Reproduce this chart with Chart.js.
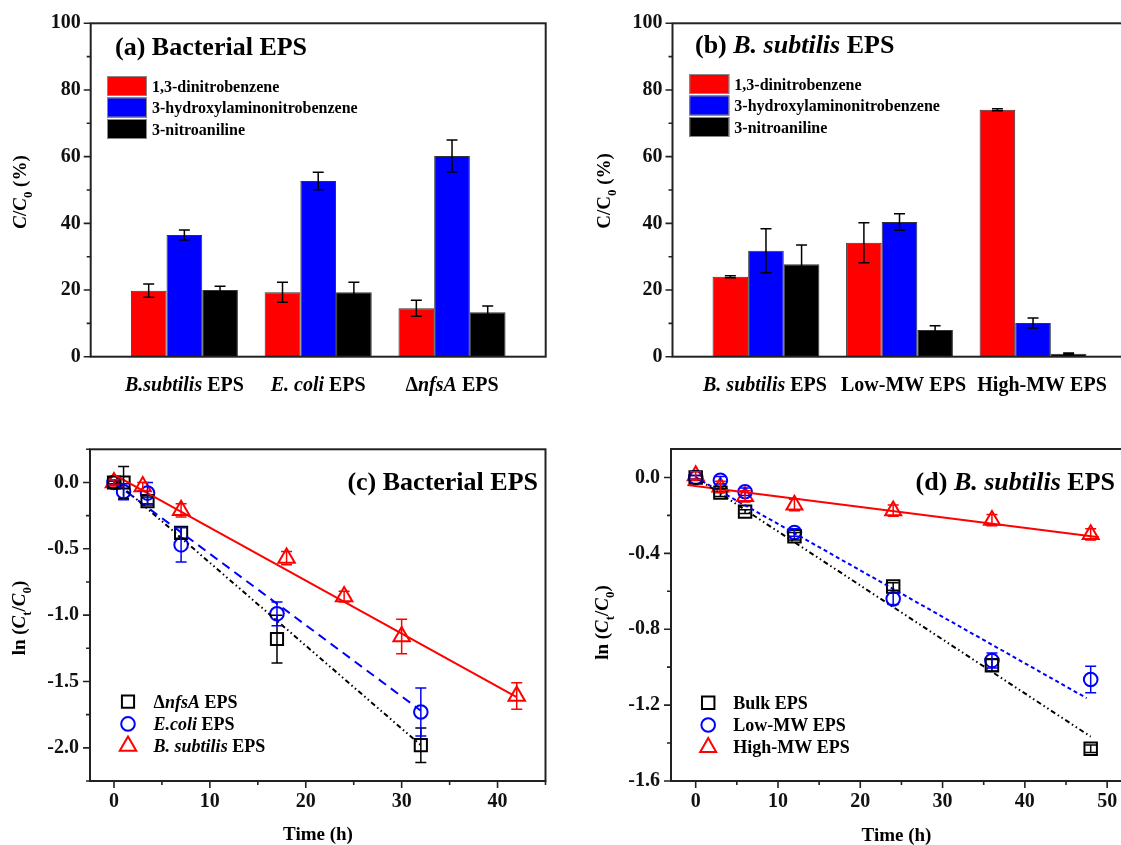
<!DOCTYPE html>
<html><head><meta charset="utf-8">
<script src="https://cdn.jsdelivr.net/npm/chart.js@4.4.0/dist/chart.umd.min.js"></script>
<style>
html,body{margin:0;padding:0;background:#fff;overflow:hidden;width:1121px;height:845px;position:relative;}
canvas{position:absolute;}
</style></head><body>
<canvas id="ca" width="560" height="420" style="left:0;top:0;width:560px;height:420px"></canvas>
<canvas id="cb" width="600" height="420" style="left:560px;top:0;width:600px;height:420px"></canvas>
<canvas id="cc" width="560" height="425" style="left:0;top:420px;width:560px;height:425px"></canvas>
<canvas id="cd" width="600" height="425" style="left:560px;top:420px;width:600px;height:425px"></canvas>
<script>
// ---------- DATA ----------
const barSeriesNames = ['1,3-dinitrobenzene', '3-hydroxylaminonitrobenzene', '3-nitroaniline'];
const barColors = ['#ff0000', '#0000ff', '#000000'];

// panel (a)
const catA = ['*B.subtilis* EPS', '*E. coli* EPS', 'Δ*nfsA* EPS'];
const aDNB = [19.8, 19.3, 14.5];   const aDNBerr = [2.0, 3.0, 2.4];
const aHANB = [36.5, 52.7, 60.2];  const aHANBerr = [1.5, 2.6, 4.8];
const aNA = [20.0, 19.3, 13.3];    const aNAerr = [1.1, 3.0, 1.9];

// panel (b)
const catB = ['*B. subtilis* EPS', 'Low-MW EPS', 'High-MW EPS'];
const bDNB = [24.0, 34.2, 74.1];   const bDNBerr = [0.3, 6.0, 0.3];
const bHANB = [31.8, 40.4, 10.1];  const bHANBerr = [6.6, 2.5, 1.5];
const bNA = [27.7, 8.0, 0.9];      const bNAerr = [5.8, 1.3, 0.2];

const barYMajor = [0, 20, 40, 60, 80, 100];
const barYMinor = [10, 30, 50, 70, 90];

// panel (c)
const cNames = ['Δ*nfsA* EPS', '*E.coli* EPS', '*B. subtilis* EPS'];
const cTimeNfsA = [0, 1, 3.5, 7, 17, 32];
const cNfsA = [0, 0, -0.14, -0.38, -1.18, -1.98];
const cNfsAerr = [0.02, 0.12, 0.03, 0.04, 0.18, 0.13];
const cTimeEcoli = [0, 1, 3.5, 7, 17, 32];
const cEcoli = [0, -0.07, -0.08, -0.47, -0.99, -1.73];
const cEcoliErr = [0.01, 0.06, 0.08, 0.13, 0.09, 0.18];
const cTimeBsub = [0, 3, 7, 18, 24, 30, 42];
const cBsub = [0, -0.03, -0.21, -0.57, -0.86, -1.16, -1.61];
const cBsubErr = [0.02, 0.03, 0.05, 0.05, 0.04, 0.13, 0.10];
const cFitNfsAX = [0, 32];  const cFitNfsAY = [0.02, -1.98];
const cFitEcoliX = [0, 32]; const cFitEcoliY = [0.0, -1.72];
const cFitBsubX = [0, 42];  const cFitBsubY = [0.06, -1.617];
const cXMajor = [0, 10, 20, 30, 40];
const cXMinor = [5, 15, 25, 35, 45];
const cYMajor = [0, -0.5, -1.0, -1.5, -2.0];
const cYMinor = [0.25, -0.25, -0.75, -1.25, -1.75, -2.25];

// panel (d)
const dNames = ['Bulk EPS', 'Low-MW EPS', 'High-MW EPS'];
const dTime = [0, 3, 6, 12, 24, 36, 48];
const dBulk = [0, -0.08, -0.18, -0.31, -0.575, -0.99, -1.43];
const dBulkErr = [0.01, 0.02, 0.01, 0.02, 0.02, 0.03, 0.02];
const dLow = [0, -0.015, -0.075, -0.29, -0.64, -0.965, -1.065];
const dLowErr = [0.01, 0.02, 0.02, 0.02, 0.03, 0.04, 0.07];
const dHigh = [0.01, -0.05, -0.10, -0.145, -0.175, -0.225, -0.30];
const dHighErr = [0.02, 0.03, 0.03, 0.03, 0.03, 0.03, 0.03];
const dFitBulkX = [0, 48];  const dFitBulkY = [0, -1.366];
const dFitLowX = [0, 47.5]; const dFitLowY = [0, -1.163];
const dFitHighX = [-1, 49]; const dFitHighY = [-0.04, -0.315];
const dXMajor = [0, 10, 20, 30, 40, 50];
const dXMinor = [5, 15, 25, 35, 45, 55];
const dYMajor = [0, -0.4, -0.8, -1.2, -1.6];
const dYMinor = [-0.2, -0.6, -1.0, -1.4];

// ---------- HELPERS ----------
const FAM = "'Liberation Serif', 'Times New Roman', serif";
function parseRich(s) {
  const segs = []; let it = false, sub = false, buf = '';
  for (const ch of s) {
    if (ch === '*' || ch === '~') {
      if (buf) segs.push({ t: buf, it, sub }); buf = '';
      if (ch === '*') it = !it; else sub = !sub;
    } else buf += ch;
  }
  if (buf) segs.push({ t: buf, it, sub });
  return segs;
}
function fontFor(g, size) {
  const sz = g.sub ? size * 0.68 : size;
  return (g.it ? 'italic ' : '') + 'bold ' + sz.toFixed(1) + 'px ' + FAM;
}
function drawRich(ctx, s, x, y, size, align, color) {
  const segs = parseRich(s); let w = 0;
  for (const g of segs) { ctx.font = fontFor(g, size); g.w = ctx.measureText(g.t).width; w += g.w; }
  let cx = align === 'center' ? x - w / 2 : align === 'right' ? x - w : x;
  ctx.fillStyle = color || '#000'; ctx.textBaseline = 'alphabetic'; ctx.textAlign = 'left';
  for (const g of segs) { ctx.font = fontFor(g, size); ctx.fillText(g.t, cx, y + (g.sub ? size * 0.28 : 0)); cx += g.w; }
}
function drawVert(ctx, s, cx, cy, size) {
  ctx.save(); ctx.translate(cx, cy); ctx.rotate(-Math.PI / 2);
  drawRich(ctx, s, 0, size * 0.33, size, 'center'); ctx.restore();
}
function marker(ctx, style, x, y, r, color) {
  ctx.save(); ctx.strokeStyle = color; ctx.lineWidth = 2; ctx.beginPath();
  if (style === 'rect') { const h = r * Math.SQRT1_2; ctx.rect(x - h, y - h, 2 * h, 2 * h); }
  else if (style === 'circle') { ctx.arc(x, y, r, 0, Math.PI * 2); }
  else { ctx.moveTo(x, y - r); ctx.lineTo(x + 0.866 * r, y + 0.5 * r); ctx.lineTo(x - 0.866 * r, y + 0.5 * r); ctx.closePath(); }
  ctx.stroke(); ctx.restore();
}
const tickFont = { family: FAM, size: 20, weight: 'bold' };

function framePlugin(yMaj, yMin, xMaj, xMin) {
  return {
    id: 'frame',
    afterDraw(chart) {
      const { ctx, chartArea: ca, scales } = chart;
      ctx.save(); ctx.strokeStyle = '#222'; ctx.lineWidth = 2;
      ctx.strokeRect(ca.left, ca.top, ca.right - ca.left, ca.bottom - ca.top);
      ctx.lineWidth = 1.6; ctx.beginPath();
      yMaj.forEach(v => { const p = scales.y.getPixelForValue(v); ctx.moveTo(ca.left, p); ctx.lineTo(ca.left - 7, p); });
      yMin.forEach(v => { const p = scales.y.getPixelForValue(v); ctx.moveTo(ca.left, p); ctx.lineTo(ca.left - 4, p); });
      xMaj.forEach(v => { const p = scales.x.getPixelForValue(v); ctx.moveTo(p, ca.bottom); ctx.lineTo(p, ca.bottom + 7); });
      xMin.forEach(v => { const p = scales.x.getPixelForValue(v); ctx.moveTo(p, ca.bottom); ctx.lineTo(p, ca.bottom + 4); });
      ctx.stroke(); ctx.restore();
    }
  };
}
const errPlugin = {
  id: 'errbars',
  afterDatasetsDraw(chart) {
    const { ctx, scales } = chart;
    chart.data.datasets.forEach((ds, i) => {
      if (!ds.errors) return;
      const meta = chart.getDatasetMeta(i);
      ctx.save(); ctx.strokeStyle = ds.errColor || ds.borderColor; ctx.lineWidth = 1.5; ctx.beginPath();
      meta.data.forEach((el, j) => {
        const v = ds.data[j].y, e = ds.errors[j];
        const y1 = scales.y.getPixelForValue(v + e), y2 = scales.y.getPixelForValue(v - e);
        const x = el.x, hw = 5.5;
        ctx.moveTo(x, y1); ctx.lineTo(x, y2);
        ctx.moveTo(x - hw, y1); ctx.lineTo(x + hw, y1);
        ctx.moveTo(x - hw, y2); ctx.lineTo(x + hw, y2);
      });
      ctx.stroke(); ctx.restore();
    });
  }
};

function barChart(id, W, H, area, cats, labelShift, vals, errs, deco) {
  const datasets = vals.map((arr, k) => ({
    label: barSeriesNames[k],
    data: arr.map((v, i) => ({ x: i, y: v })),
    errors: errs[k], errColor: '#000',
    backgroundColor: barColors[k], borderColor: '#333', borderWidth: 1,
    categoryPercentage: 0.8, barPercentage: 1.0
  }));
  return new Chart(document.getElementById(id), {
    type: 'bar',
    data: { datasets },
    options: {
      responsive: false, animation: false, devicePixelRatio: 1,
      layout: { padding: { left: 0, top: area.top, right: W - area.right, bottom: 0 } },
      plugins: { legend: { display: false }, tooltip: { enabled: false }, title: { display: false } },
      scales: {
        x: {
          type: 'linear', min: -0.7, max: 2.7, offset: false,
          grid: { display: false, drawTicks: false, offset: false }, border: { display: false },
          ticks: { display: false }, afterBuildTicks(s) { s.ticks = []; },
          afterFit(s) { s.height = H - area.bottom; }
        },
        y: {
          min: 0, max: 100,
          grid: { display: false, drawTicks: false }, border: { display: false },
          ticks: { font: tickFont, color: '#111', padding: 10 },
          afterBuildTicks(s) { s.ticks = barYMajor.map(v => ({ value: v })); },
          afterFit(s) { s.width = area.left; }
        }
      }
    },
    plugins: [errPlugin, framePlugin(barYMajor, barYMinor, [], []), {
      id: 'deco', afterDraw(chart) {
        const ctx = chart.ctx;
        cats.forEach((c, i) => drawRich(ctx, c, chart.scales.x.getPixelForValue(i) + labelShift[i], 391, 20, 'center'));
        deco(ctx, chart);
      }
    }]
  });
}

function barLegend(ctx, x, y0) {
  barSeriesNames.forEach((n, k) => {
    const top = y0 + k * 21.5;
    ctx.fillStyle = barColors[k]; ctx.fillRect(x, top, 40, 20);
    ctx.strokeStyle = '#888'; ctx.lineWidth = 1; ctx.strokeRect(x + 0.5, top + 0.5, 39, 19);
    drawRich(ctx, n, x + 45, top + 10 + 5.6, 16, 'left');
  });
}

barChart('ca', 560, 420, { left: 90.7, top: 23.3, right: 545.7, bottom: 356.7 }, catA, [0, 0, 0],
  [aDNB, aHANB, aNA], [aDNBerr, aHANBerr, aNAerr], (ctx) => {
    drawRich(ctx, '(a) Bacterial EPS', 115, 55, 26, 'left');
    barLegend(ctx, 107, 76);
    drawVert(ctx, '*C*/*C*~0~ (%)', 20, 192, 19);
  });
barChart('cb', 600, 420, { left: 112.5, top: 23.3, right: 566.5, bottom: 356.7 }, catB, [-1, 4, 9],
  [bDNB, bHANB, bNA], [bDNBerr, bHANBerr, bNAerr], (ctx) => {
    drawRich(ctx, '(b) *B. subtilis* EPS', 135, 53, 26, 'left');
    barLegend(ctx, 129.3, 74);
    drawVert(ctx, 'C/C~0~ (%)', 44, 191, 19);
  });

function xy(xs, ys) { return xs.map((x, i) => ({ x, y: ys[i] })); }
function fitDs(xs, ys, color, dash) {
  return { type: 'line', data: xy(xs, ys), borderColor: color, borderWidth: 2, borderDash: dash,
    pointRadius: 0, showLine: true, fill: false, tension: 0 };
}
function ptDs(xs, ys, errs, color, style, r) {
  return { data: xy(xs, ys), errors: errs, borderColor: color, backgroundColor: 'rgba(0,0,0,0)',
    pointStyle: style, pointRadius: r, pointBorderWidth: 2, pointBorderColor: color,
    pointBackgroundColor: 'rgba(0,0,0,0)', showLine: false };
}
function scatterChart(id, W, H, area, xr, yr, xMaj, xMin, yMaj, yMin, datasets, deco) {
  return new Chart(document.getElementById(id), {
    type: 'scatter',
    data: { datasets },
    options: {
      responsive: false, animation: false, devicePixelRatio: 1,
      layout: { padding: { left: 0, top: area.top, right: W - area.right, bottom: 0 } },
      plugins: { legend: { display: false }, tooltip: { enabled: false }, title: { display: false } },
      scales: {
        x: {
          type: 'linear', min: xr[0], max: xr[1],
          grid: { display: false, drawTicks: false }, border: { display: false },
          ticks: { font: tickFont, color: '#111', padding: 9, maxRotation: 0 },
          afterBuildTicks(s) { s.ticks = xMaj.map(v => ({ value: v })); },
          afterFit(s) { s.height = H - area.bottom; }
        },
        y: {
          type: 'linear', min: yr[0], max: yr[1],
          grid: { display: false, drawTicks: false }, border: { display: false },
          ticks: { font: tickFont, color: '#111', padding: 11, callback: v => Number(v).toFixed(1) },
          afterBuildTicks(s) { s.ticks = yMaj.map(v => ({ value: v })); },
          afterFit(s) { s.width = area.left; }
        }
      }
    },
    plugins: [errPlugin, framePlugin(yMaj, yMin, xMaj, xMin), { id: 'deco', afterDraw(chart) { deco(chart.ctx, chart); } }]
  });
}

scatterChart('cc', 560, 425, { left: 90, top: 29.3, right: 545.5, bottom: 361 }, [-2.5, 45], [-2.25, 0.25],
  cXMajor, cXMinor, cYMajor, cYMinor, [
    fitDs(cFitNfsAX, cFitNfsAY, '#000', [5, 3, 1.5, 3, 1.5, 3]),
    fitDs(cFitEcoliX, cFitEcoliY, '#0000ff', [9, 6]),
    fitDs(cFitBsubX, cFitBsubY, '#ff0000', []),
    ptDs(cTimeNfsA, cNfsA, cNfsAerr, '#000', 'rect', 8.6),
    ptDs(cTimeEcoli, cEcoli, cEcoliErr, '#0000ff', 'circle', 6.8),
    ptDs(cTimeBsub, cBsub, cBsubErr, '#ff0000', 'triangle', 9.5)
  ], (ctx) => {
    drawRich(ctx, '(c) Bacterial EPS', 538, 70, 26, 'right');
    const styles = [['rect', '#000', 8.6], ['circle', '#0000ff', 6.8], ['triangle', '#ff0000', 9.5]];
    cNames.forEach((n, k) => {
      const y = 281.7 + k * 22.2;
      marker(ctx, styles[k][0], 128, y, styles[k][2], styles[k][1]);
      drawRich(ctx, n, 153.6, y + 6, 18, 'left');
    });
    drawVert(ctx, 'ln (*C*~t~/*C*~0~)', 19, 198, 19);
    drawRich(ctx, 'Time (h)', 318, 420, 19, 'center');
  });

scatterChart('cd', 600, 425, { left: 111, top: 29, right: 588.3, bottom: 361 }, [-3, 55], [-1.6, 0.15],
  dXMajor, dXMinor, dYMajor, dYMinor, [
    fitDs(dFitBulkX, dFitBulkY, '#000', [5, 3, 1.5, 3, 1.5, 3]),
    fitDs(dFitLowX, dFitLowY, '#0000ff', [4, 3]),
    fitDs(dFitHighX, dFitHighY, '#ff0000', []),
    ptDs(dTime, dBulk, dBulkErr, '#000', 'rect', 8.8),
    ptDs(dTime, dLow, dLowErr, '#0000ff', 'circle', 6.8),
    ptDs(dTime, dHigh, dHighErr, '#ff0000', 'triangle', 9.2)
  ], (ctx) => {
    drawRich(ctx, '(d) *B. subtilis* EPS', 555, 70, 26, 'right');
    const styles = [['rect', '#000', 8.8], ['circle', '#0000ff', 6.8], ['triangle', '#ff0000', 9.2]];
    dNames.forEach((n, k) => {
      const y = 282.7 + k * 22.3;
      marker(ctx, styles[k][0], 148.2, y, styles[k][2], styles[k][1]);
      drawRich(ctx, n, 173.2, y + 6, 18, 'left');
    });
    drawVert(ctx, 'ln (*C*~t~/*C*~0~)', 42, 202.5, 19);
    drawRich(ctx, 'Time (h)', 336.5, 421, 19, 'center');
  });
</script>
</body></html>
